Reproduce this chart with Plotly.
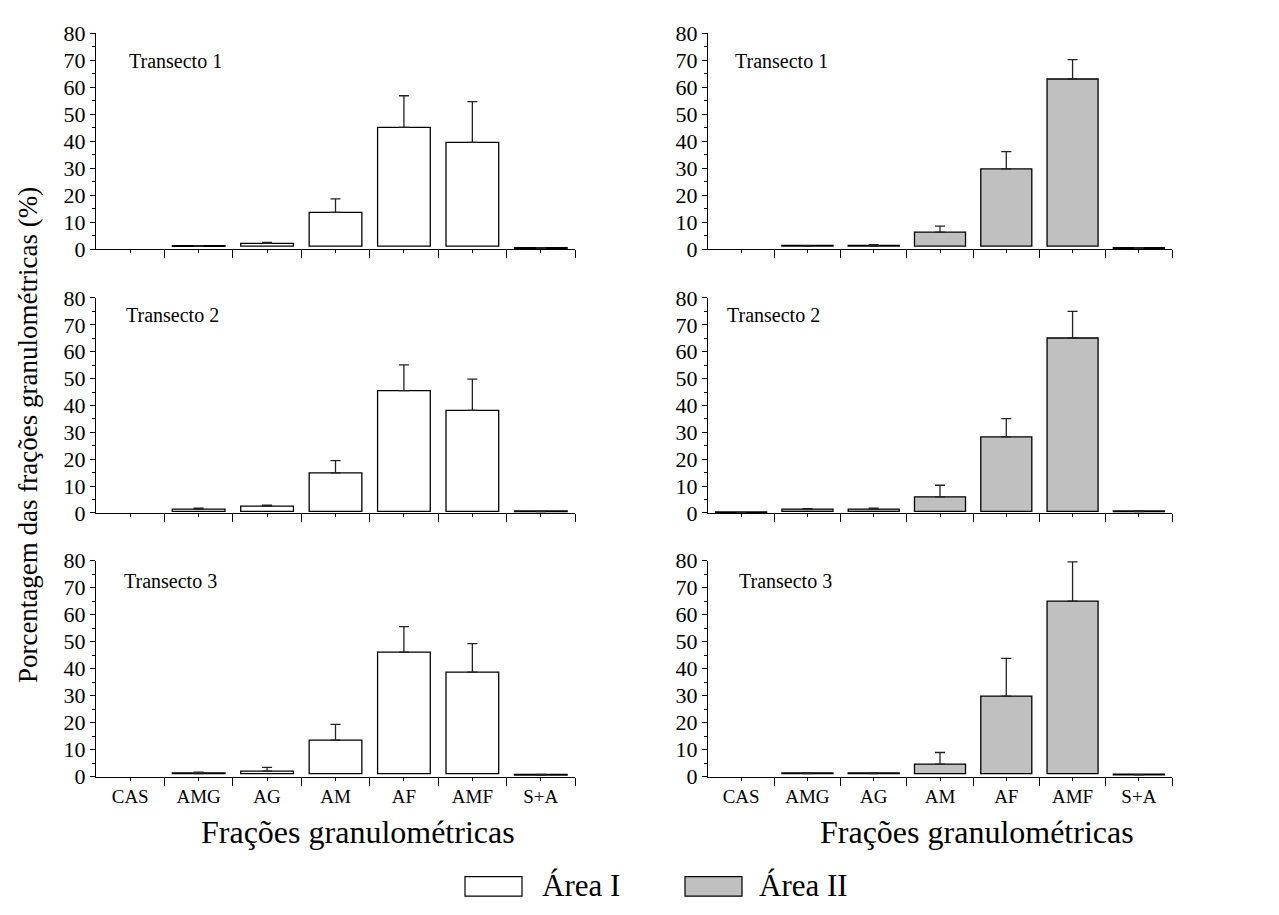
import plotly.graph_objects as go

# ---------------- data ----------------
categories = ["CAS", "AMG", "AG", "AM", "AF", "AMF", "S+A"]

t1_area1 = [0, 1.1, 2.2, 13.7, 45.2, 39.6, 0.4]
t1_area1_err = [0, 0.3, 0.4, 5.0, 11.7, 15.1, 0.2]
t2_area1 = [0, 1.4, 2.5, 14.9, 45.5, 38.2, 0.5]
t2_area1_err = [0, 0.4, 0.4, 4.6, 9.6, 11.6, 0.1]
t3_area1 = [0, 1.1, 2.0, 13.5, 46.1, 38.7, 0.5]
t3_area1_err = [0, 0.5, 1.4, 5.8, 9.4, 10.5, 0.3]

t1_area2 = [0, 1.2, 1.2, 6.4, 29.8, 63.1, 0.4]
t1_area2_err = [0, 0.1, 0.5, 2.2, 6.4, 7.2, 0.2]
t2_area2 = [0.1, 1.4, 1.4, 6.0, 28.3, 65.1, 0.5]
t2_area2_err = [0, 0.2, 0.4, 4.3, 6.8, 9.9, 0.3]
t3_area2 = [0, 1.1, 1.1, 4.6, 29.8, 65.0, 0.6]
t3_area2_err = [0, 0.2, 0.2, 4.3, 14.0, 14.5, 0.1]

transect_labels = ["Transecto 1", "Transecto 2", "Transecto 3"]
area_labels = ["Área I", "Área II"]
y_ticks = [0, 10, 20, 30, 40, 50, 60, 70, 80]

# ---------------- style ----------------
W, H = 1279, 915
FONT = "Liberation Serif"
fills = ["#ffffff", "#c0c0c0"]
row_base = [1.2, 0.6, 1.1]

# pixel geometry of panels
col_x = [(96, 575), (708, 1172)]
row_y = [(22, 244), (294, 515), (564, 786)]


def px_x(p):
    return p / W


def px_y(p):
    return 1 - p / H


panels = [
    [(t1_area1, t1_area1_err), (t1_area2, t1_area2_err)],
    [(t2_area1, t2_area1_err), (t2_area2, t2_area2_err)],
    [(t3_area1, t3_area1_err), (t3_area2, t3_area2_err)],
]
label_pos = [
    [(176, 50), (781, 50)],
    [(172, 312), (773, 312)],
    [(170, 585), (785, 585)],
]

fig = go.Figure()
xs = list(range(len(categories)))
annotations = []

for r in range(3):
    for c in range(2):
        idx = r * 2 + c + 1
        xa = "x" if idx == 1 else f"x{idx}"
        ya = "y" if idx == 1 else f"y{idx}"
        vals, errs = panels[r][c]
        bases, heights = [], []
        for v in vals:
            if v <= 0:
                bases.append(0)
                heights.append(None)
            else:
                b = min(row_base[r], v)
                bases.append(b)
                heights.append(max(v - b, 0.25))
        fig.add_trace(go.Bar(
            x=xs, y=heights, base=bases, width=0.77,
            marker=dict(color=fills[c], line=dict(color="black", width=1.3)),
            xaxis=xa, yaxis=ya, showlegend=False, hoverinfo="skip",
        ))
        ev = [v if v > 0 else None for v in vals]
        fig.add_trace(go.Scatter(
            x=xs, y=ev, mode="markers",
            marker=dict(size=1, color="rgba(0,0,0,0)"),
            error_y=dict(type="data", symmetric=False, array=errs,
                         arrayminus=[0] * len(errs), color="#222222",
                         thickness=1.3, width=5),
            xaxis=xa, yaxis=ya, showlegend=False, hoverinfo="skip",
        ))
        x0, x1 = col_x[c]
        y0, y1 = row_y[r]
        xkey = "xaxis" if idx == 1 else f"xaxis{idx}"
        ykey = "yaxis" if idx == 1 else f"yaxis{idx}"
        fig.update_layout(**{
            xkey: dict(
                domain=[px_x(x0), px_x(x1)], anchor=ya,
                range=[-0.5, 6.5], tickmode="array", tickvals=xs,
                ticktext=categories, showticklabels=(r == 2),
                ticks="outside", ticklen=3, tickcolor="black",
                minor=dict(tickmode="array",
                           tickvals=[0.5, 1.5, 2.5, 3.5, 4.5, 5.5, 6.5],
                           ticks="outside", ticklen=8, tickcolor="black"),
                showline=True, linecolor="black", linewidth=1,
                showgrid=False, zeroline=False,
                tickfont=dict(family=FONT, size=19, color="black"),
            ),
            ykey: dict(
                domain=[px_y(y1), px_y(y0)], anchor=xa,
                range=[0, 80], tickmode="array", tickvals=y_ticks,
                ticks="outside", ticklen=5, tickcolor="black",
                minor=dict(dtick=5, ticks="outside", ticklen=3,
                           tickcolor="black"),
                showline=True, linecolor="black", linewidth=1,
                showgrid=False, zeroline=False,
                tickfont=dict(family=FONT, size=22, color="black"),
            ),
        })
        lx, ly = label_pos[r][c]
        annotations.append(dict(
            text=transect_labels[r], x=px_x(lx), y=px_y(ly),
            xref="paper", yref="paper", showarrow=False,
            xanchor="center", yanchor="middle",
            font=dict(family=FONT, size=20, color="black"),
        ))

# axis titles
for cx in (358, 977):
    annotations.append(dict(
        text="Frações granulométricas", x=px_x(cx), y=px_y(843),
        xref="paper", yref="paper", showarrow=False,
        xanchor="center", yanchor="middle",
        font=dict(family=FONT, size=32, color="black"),
    ))
annotations.append(dict(
    text="Porcentagem das frações granulométricas (%)",
    x=px_x(28), y=px_y(435), xref="paper", yref="paper",
    showarrow=False, textangle=-90, xanchor="center", yanchor="middle",
    font=dict(family=FONT, size=27, color="black"),
))

# legend
shapes = []
legend_boxes = [(465, 522), (685, 742)]
legend_text_x = [540, 757]
for i in range(2):
    bx0, bx1 = legend_boxes[i]
    shapes.append(dict(
        type="rect", xref="paper", yref="paper",
        x0=px_x(bx0), x1=px_x(bx1), y0=px_y(909), y1=px_y(889),
        fillcolor=fills[i], line=dict(color="black", width=1.2),
    ))
    annotations.append(dict(
        text=area_labels[i], x=px_x(legend_text_x[i]), y=px_y(898),
        xref="paper", yref="paper", showarrow=False,
        xanchor="left", yanchor="middle",
        font=dict(family=FONT, size=31, color="black"),
    ))

fig.update_layout(
    width=W, height=H, margin=dict(l=0, r=0, t=0, b=0),
    paper_bgcolor="white", plot_bgcolor="white",
    font=dict(family=FONT, color="black"),
    bargap=0.2, annotations=annotations, shapes=shapes,
    showlegend=False,
)

fig.write_html("out.html")
